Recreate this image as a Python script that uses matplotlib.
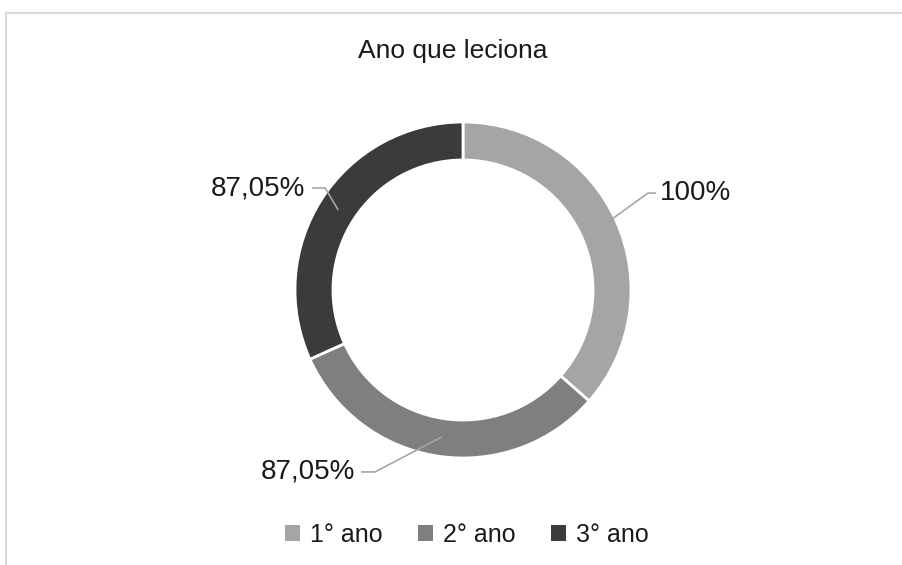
import numpy as np
import matplotlib
matplotlib.use("Agg")
import matplotlib.pyplot as plt
from matplotlib.patches import Patch, Rectangle

# --- dados ---
categorias = ["1° ano", "2° ano", "3° ano"]
valores = [100, 87.05, 87.05]
rotulos = ["100%", "87,05%", "87,05%"]
cores = ["#a5a5a5", "#7f7f7f", "#3b3b3b"]

plt.rcParams["font.family"] = ["Liberation Sans", "DejaVu Sans"]

W, H = 903, 565
fig = plt.figure(figsize=(W / 100, H / 100), dpi=100)

# moldura cinza clara (topo e esquerda)
fig.patches.append(Rectangle((6 / W, -0.05), 1.1, 1.05 - 13 / H, transform=fig.transFigure,
                             fill=False, edgecolor="#d9d9d9", linewidth=1.5))

# eixo do donut: centro (463, 290) px, raio 168 px
cx, cy, R = 463, 290, 168
ax = fig.add_axes([(cx - R) / W, (H - cy - R) / H, 2 * R / W, 2 * R / H])

largura = 0.226
wedges, _ = ax.pie(valores, colors=cores, startangle=90, counterclock=False, radius=1,
                   wedgeprops=dict(width=largura, edgecolor="white", linewidth=2))
ax.set_xlim(-1, 1)
ax.set_ylim(-1, 1)
ax.set_aspect("equal")
ax.axis("off")

# rótulos com linhas de chamada
r_meio = 1 - largura / 2
# (cotovelo, fim da linha horizontal, posição do texto, alinhamento)
layout = [
    ((1.101, 0.577), (1.143, 0.577), (1.17, 0.577), "left"),
    ((-0.524, -1.083), (-0.601, -1.083), (-0.64, -1.083), "right"),
    ((-0.821, 0.607), (-0.893, 0.607), (-0.94, 0.607), "right"),
]
for w, rot, (cot, fim, txt, ha) in zip(wedges, rotulos, layout):
    ang = np.deg2rad((w.theta1 + w.theta2) / 2)
    px, py = r_meio * np.cos(ang), r_meio * np.sin(ang)
    ax.plot([px, cot[0], fim[0]], [py, cot[1], fim[1]], color="#a6a6a6", lw=1.2,
            clip_on=False, zorder=3)
    ax.text(txt[0], txt[1], rot, ha=ha, va="center", fontsize=20, color="#1a1a1a",
            clip_on=False)

fig.text(453 / W, 1 - 51 / H, "Ano que leciona", ha="center", va="center",
         fontsize=19, color="#1a1a1a")

handles = [Patch(facecolor=c, edgecolor="none") for c in cores]
fig.legend(handles, categorias, loc="center", bbox_to_anchor=(467 / W, 1 - 535 / H), ncol=3,
           frameon=False, fontsize=18, handlelength=0.6, handleheight=0.6,
           handletextpad=0.4, columnspacing=1.4, labelcolor="#1a1a1a")

fig.savefig("out.png", dpi=100)
